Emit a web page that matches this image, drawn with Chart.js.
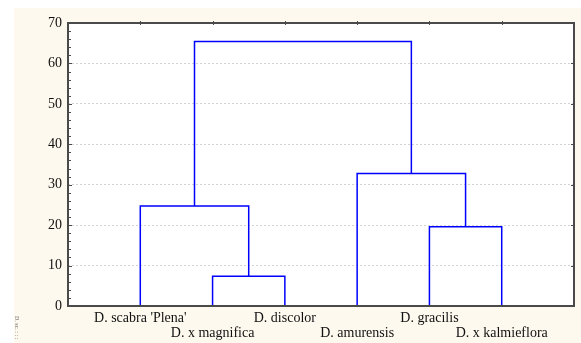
<!DOCTYPE html>
<html>
<head>
<meta charset="utf-8">
<script src="https://cdn.jsdelivr.net/npm/chart.js@4/dist/chart.umd.min.js"></script>
<style>
  html, body { margin: 0; padding: 0; background: #ffffff; }
  #wrap { width: 581px; height: 343px; }
</style>
</head>
<body>
<div id="wrap"><canvas id="dendro" width="581" height="343"></canvas></div>
<script>
// Leaves, left to right along the x axis
const leafLabels = ["D. scabra 'Plena'", "D. x magnifica", "D. discolor", "D. amurensis", "D. gracilis", "D. x kalmieflora"];
const leafPositions = [1, 2, 3, 4, 5, 6];

// Joins: cluster ids 0-5 are leaves, each join creates the next id (6, 7, ...)
const mergeLeft = [1, 4, 0, 3, 8];
const mergeRight = [2, 5, 6, 7, 9];
const mergeHeight = [7.35, 19.6, 24.75, 32.8, 65.4];

const yTicks = [0, 10, 20, 30, 40, 50, 60, 70];

const lineColor = '#0000ff';
const frameColor = '#4a4a4a';
const serif = "'Liberation Serif', 'Times New Roman', serif";

/**
 * Turns the join lists into one polyline (4 points) per join.
 */
function buildLinks() {
    const pos = leafPositions.slice();
    const height = leafPositions.map(() => 0);
    const links = [];

    mergeLeft.forEach((a, i) => {
        const b = mergeRight[i];
        const h = mergeHeight[i];
        links.push([
            { x: pos[a], y: height[a] },
            { x: pos[a], y: h },
            { x: pos[b], y: h },
            { x: pos[b], y: height[b] }
        ]);
        pos.push((pos[a] + pos[b]) / 2);
        height.push(h);
    });
    return links;
}

// background + frame + small axis ticks
const framePlugin = {
    id: 'frame',
    beforeDraw(chart) {
        const ctx = chart.ctx;
        ctx.save();
        ctx.fillStyle = '#ffffff';
        ctx.fillRect(0, 0, chart.width, chart.height);
        ctx.fillStyle = '#fdf9ee';
        ctx.fillRect(14, 8, chart.width - 14, chart.height - 8);
        const a = chart.chartArea;
        ctx.fillStyle = '#ffffff';
        ctx.fillRect(a.left, a.top, a.right - a.left, a.bottom - a.top);
        ctx.restore();
    },
    afterDraw(chart) {
        const ctx = chart.ctx;
        const a = chart.chartArea;
        const ys = chart.scales.y;
        const xs = chart.scales.x;
        ctx.save();
        ctx.strokeStyle = frameColor;
        ctx.lineWidth = 1;
        ctx.beginPath();
        // minor ticks on the left axis, every 2 units
        for (let v = 0; v <= 70; v += 2) {
            const py = Math.round(ys.getPixelForValue(v)) + 0.5;
            const len = v % 10 === 0 ? 4 : 3;
            ctx.moveTo(a.left, py);
            ctx.lineTo(a.left + len, py);
        }
        // major ticks on the right axis
        yTicks.forEach(v => {
            const py = Math.round(ys.getPixelForValue(v)) + 0.5;
            ctx.moveTo(a.right, py);
            ctx.lineTo(a.right - 3, py);
        });
        // ticks on the top axis at each leaf
        leafPositions.forEach(v => {
            const px = Math.round(xs.getPixelForValue(v)) + 0.5;
            ctx.moveTo(px, a.top - 2);
            ctx.lineTo(px, a.top + 2);
        });
        ctx.stroke();

        ctx.lineWidth = 2;
        ctx.strokeRect(a.left, a.top, a.right - a.left, a.bottom - a.top);

        // tiny rotated note at the bottom left corner
        ctx.translate(14, 316);
        ctx.rotate(Math.PI / 2);
        ctx.fillStyle = '#666666';
        ctx.font = "6px " + serif;
        ctx.textBaseline = 'bottom';
        ctx.fillText("D. sc. : : :", 0, 0);
        ctx.restore();
    }
};

document.addEventListener('DOMContentLoaded', function () {
    const links = buildLinks();
    const datasets = links.map(points => ({
        data: points,
        showLine: true,
        borderColor: lineColor,
        borderWidth: 1.5,
        pointRadius: 0,
        tension: 0,
        fill: false
    }));

    const ctx = document.getElementById('dendro').getContext('2d');
    new Chart(ctx, {
        type: 'scatter',
        data: { datasets: datasets },
        plugins: [framePlugin],
        options: {
            responsive: false,
            animation: false,
            layout: { padding: { top: 23, right: 7, left: 0, bottom: 0 } },
            plugins: {
                legend: { display: false },
                tooltip: { enabled: false }
            },
            scales: {
                x: {
                    type: 'linear',
                    min: 0,
                    max: 7,
                    afterFit: scale => { scale.height = 37; },
                    afterBuildTicks: scale => {
                        scale.ticks = leafPositions.map(v => ({ value: v }));
                    },
                    grid: { display: false, drawTicks: false },
                    border: { display: false },
                    ticks: {
                        autoSkip: false,
                        maxRotation: 0,
                        padding: 5,
                        color: '#111111',
                        font: { family: serif, size: 14, lineHeight: 15 / 14 },
                        callback: (value, index) => index % 2 === 0 ? [leafLabels[index]] : ['', leafLabels[index]]
                    }
                },
                y: {
                    min: 0,
                    max: 70,
                    afterFit: scale => { scale.width = 68; },
                    afterBuildTicks: scale => {
                        scale.ticks = yTicks.map(v => ({ value: v }));
                    },
                    grid: {
                        drawTicks: false,
                        color: ctx => (ctx.tick && ctx.tick.value > 0 && ctx.tick.value < 70) ? '#d2d2d2' : 'rgba(0,0,0,0)',
                        lineWidth: 1
                    },
                    border: { display: false, dash: [2, 2] },
                    ticks: {
                        padding: 6,
                        color: '#111111',
                        font: { family: serif, size: 14 }
                    }
                }
            }
        }
    });
});
</script>
</body>
</html>
